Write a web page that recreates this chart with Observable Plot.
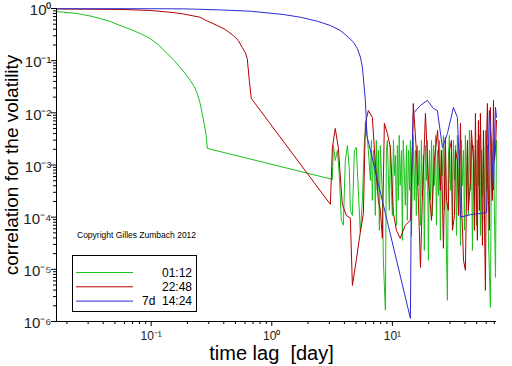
<!DOCTYPE html>
<html><head><meta charset="utf-8">
<script src="https://cdn.jsdelivr.net/npm/d3@7"></script>
<script src="https://cdn.jsdelivr.net/npm/@observablehq/plot@0.6"></script>
<style>
body{margin:0;background:#fff;}
#chart{width:512px;height:366px;}
</style></head><body><div id="chart"></div>
<script>
// ---- data: [lag in days, correlation] ----
const seriesNames = ["01:12", "22:48", "7d 14:24"];
const legendLabels = ["01:12", "22:48", "7d  14:24"];
const seriesColors = ["#1cc01c", "#b40000", "#2c2cd2"];

const greenPoints = [
[0.0164,0.876],[0.0201,0.838],[0.0243,0.80],[0.0312,0.718],[0.0377,0.643],[0.0457,0.564],[0.0553,0.472],
[0.0710,0.379],[0.0842,0.318],[0.0982,0.266],[0.114,0.204],[0.136,0.137],[0.155,0.101],[0.174,0.0741],
[0.191,0.0569],[0.211,0.0418],[0.2275,0.0320],[0.241,0.0235],[0.255,0.0151],[0.270,0.00781],[0.286,0.00369],
[0.292,0.00208],
[3.18,5.3e-4],[3.24,2.37e-3],[3.36,1.22e-3],[3.50,1.91e-3],[3.63,6.3e-4],[3.77,8.7e-5],[3.92,7.0e-5],
[4.07,1.22e-3],[4.24,2.37e-3],[4.40,7.9e-4],[4.48,1.35e-4],[4.66,1.08e-4],[4.84,1.91e-3],[5.02,2.17e-3],
[5.22,3.26e-4],[5.42,5.1e-5],[5.64,2.1e-4],[5.86,2.96e-3],[6.08,5.74e-3],[6.32,1.91e-3],
[6.57,5.07e-4],[6.70,2.96e-3],[6.82,2.1e-4],[6.96,1.91e-3],[7.09,1.22e-3],[7.22,1.08e-4],[7.36,2.96e-3],
[7.50,3.26e-4],[7.65,1.91e-3],[7.80,5.6e-5],[7.95,2.37e-3],[8.10,7.9e-4],[8.26,2.62e-4],[8.42,1.49e-5],
[8.58,4.9e-6],[8.75,1.64e-6],[8.92,1.91e-3],[9.09,2.96e-3],[9.26,6.3e-4],[9.44,1.35e-4],[9.62,2.37e-3],
[9.81,3.26e-4],[10.0,1.08e-4],[10.2,2.96e-3],[10.4,6.3e-4],[10.6,1.53e-3],[10.8,7.0e-5],[11.0,2.37e-3],
[11.2,2.1e-4],[11.4,3.69e-3],[11.6,4.07e-4],[11.9,1.91e-3],[12.1,3.6e-5],[12.3,2.96e-3],[12.6,6.3e-4],
[12.8,1.68e-4],[13.1,2.37e-3],[13.3,8.7e-5],[13.6,1.91e-3],[13.9,3.26e-4],[14.1,2.96e-3],[14.4,4.48e-5],
[14.7,1.22e-3],[14.9,3.69e-3],[15.2,2.1e-4],[15.5,1.91e-3],[15.8,1.08e-4],[16.1,2.37e-3],[16.4,4.07e-4],
[16.7,1.91e-3],[17.1,7.0e-5],[17.4,2.96e-3],[17.7,2.62e-4],[18.1,1.53e-3],[18.4,2.31e-5],[18.8,2.37e-3],
[19.2,5.07e-4],[19.5,2.96e-3],[19.9,1.49e-5],[20.3,1.91e-3],[20.7,2.1e-4],[21.1,2.96e-3],[21.5,1.08e-4],
[21.9,2.37e-3],[22.3,4.07e-4],[22.8,3.69e-3],[23.2,7.0e-5],[23.7,1.91e-3],[24.1,2.62e-4],[24.6,2.96e-3],
[25.0,3.6e-5],[25.5,1.91e-3],[26.0,6.3e-4],[26.5,3.69e-3],[27.0,1.35e-4],[27.5,2.37e-3],[28.1,1.85e-5],
[28.6,2.55e-6],[29.1,1.22e-3],[29.7,3.69e-3],[30.3,3.26e-4],[30.9,1.91e-3],[31.5,7.0e-5],[32.1,2.96e-3],
[32.7,5.07e-4],[33.4,2.37e-3],[34.0,4.48e-5],[34.6,3.69e-3],[35.3,2.62e-4],[36.0,1.91e-3],[36.7,2.88e-5],
[37.4,2.96e-3],[38.1,4.07e-4],[38.9,1.91e-3],[39.6,5.6e-5],[40.3,3.69e-3],[41.1,2.1e-4],[41.9,2.37e-3],
[42.7,1.08e-4],[43.5,4.6e-3],[44.4,3.26e-4],[45.2,2.96e-3],[46.1,2.31e-5],[47.0,2.37e-3],[47.9,2.1e-4],
[48.8,1.91e-3],[49.8,7.0e-5],[50.7,2.96e-3],[51.7,4.07e-4],[52.7,3.69e-3],[53.7,4.48e-5],[54.8,1.91e-3],
[55.8,2.62e-4],[56.9,2.96e-3],[58.0,8.7e-5],[59.1,4.6e-3],[60.3,3.26e-4],[61.4,2.37e-3],[62.6,3.6e-5],
[63.7,9.6e-6],[65.0,1.87e-6],[66.3,1.91e-3],[67.5,2.1e-4],[68.9,2.96e-3],[70.2,1.08e-4],[71.6,7.0e-6],
[73.0,2.96e-3]];

const redPoints = [
[0.0164,0.98],[0.0586,0.957],[0.0982,0.916],[0.152,0.838],[0.1844,0.785],[0.255,0.68],[0.2806,0.60],
[0.353,0.472],[0.411,0.396],[0.479,0.304],[0.527,0.244],[0.569,0.179],[0.602,0.1436],[0.626,0.110],
[0.651,0.0418],[0.676,0.0189],
[3.06,1.76e-4],[3.18,2.17e-3],[3.36,5.02e-3],[3.56,2.17e-3],[3.84,1.8e-4],[4.15,1.08e-4],[4.48,9.6e-5],
[4.66,4.9e-6],[5.02,1.49e-5],[5.42,5.1e-5],[5.75,1.18e-4],[5.97,6.27e-3],[6.32,0.0111],[6.82,8.2e-3],
[7.22,1.1e-3],[7.65,2.1e-4],[7.95,1.35e-4],[8.26,3.93e-5],[8.58,6.27e-3],[9.09,4.03e-3],[9.62,2.17e-3],
[10.2,1.18e-4],[10.8,5.6e-5],[11.6,3.93e-5],[12.8,7.0e-5],[14.1,8.7e-5],[14.7,2.96e-3],[14.9,0.0151],
[15.8,1.91e-3],[16.4,2.4e-4],[17.1,1.09e-5],[17.7,2.1e-4],[18.8,9.75e-3],[19.9,5.07e-4],[21.1,8.7e-5],
[22.3,1.22e-3],[23.7,4.6e-3],
[25.0,3.26e-4],[25.5,1.91e-3],[26.5,2.53e-5],[27.5,3.38e-3],[28.1,2.1e-4],[29.1,1.35e-4],[29.7,1.91e-3],
[30.9,2.96e-3],[31.5,5.6e-5],[32.7,1.08e-4],[33.4,1.91e-3],[34.6,1.22e-3],[35.3,1.08e-4],[36.7,6.27e-3],
[37.4,2.1e-4],[38.9,1.49e-5],[40.3,9.6e-6],[41.9,2.96e-3],[42.7,1.35e-4],[44.4,5.07e-4],[45.2,4.6e-3],
[47.0,1.22e-3],[47.9,5.6e-5],[48.8,9.75e-3],[49.8,2.1e-4],[50.7,3.6e-5],[51.7,7.15e-3],[52.7,1.35e-4],
[53.7,9.75e-3],[54.8,5.07e-4],[55.8,2.88e-5],[56.9,4.6e-3],[58.0,8.7e-5],[59.1,3.96e-6],[60.3,2.96e-3],
[61.4,0.0151],[62.6,2.1e-4],[63.7,5.6e-5],[65.0,0.0127],[66.3,5.07e-4],[67.5,2.1e-4],[68.9,0.0173],
[70.2,1.22e-3],[71.6,1.91e-3],[73.0,7.15e-3]];

const bluePoints = [
[0.0164,0.99],[0.0982,0.99],[0.1844,0.985],[0.353,0.944],[0.663,0.888],[1.246,0.767],[1.724,0.681],
[2.386,0.571],[3.06,0.472],[3.70,0.379],[4.31,0.282],[4.75,0.226],[5.12,0.171],[5.43,0.117],[5.64,0.075],
[5.74,0.0483],[5.97,0.0173],[6.08,0.00715],[6.14,0.00369],
[14.1,1.15e-6],[14.4,5e-4],[14.9,0.00975],[17.1,0.0139],[19.5,0.0173],[21.9,0.0121],[23.6,0.0111],
[26.0,0.00217],[28.6,0.00403],[32.1,0.0127],[34.6,0.00817],[35.9,9.8e-4],[36.7,1.0e-4],[44.4,1.12e-4],
[53.7,1.18e-4],[60.3,1.23e-4],[62.6,2.0e-3],[63.7,0.0111],[66.3,2.6e-3],[68.9,3.3e-4],[71.6,0.0127],
[73.0,0.0082]];

const xMajorTicks = [0.1, 1, 10];
const yMajorTicks = [1e-6, 1e-5, 1e-4, 1e-3, 1e-2, 1e-1, 1];
const minorSteps = [2, 3, 4, 5, 6, 7, 8, 9];
const xDomain = [0.0164, 73];
const yDomain = [1e-6, 1];
const xTitle = "time lag\u00a0 [day]";
const yTitle = "correlation for the volatility";
const copyright = "Copyright Gilles Zumbach 2012";

// ---- build ----
const rows = [];
[greenPoints, redPoints, bluePoints].forEach((pts, i) => {
  pts.forEach(([lag, corr]) => rows.push({series: seriesNames[i], lag, corr}));
});
const minorOf = (decades, dom) => decades.flatMap(d => minorSteps.map(s => s * d)).filter(v => v > dom[0] && v < dom[1]);
const xMinor = minorOf([0.01, 0.1, 1, 10], xDomain);
const yMinor = minorOf([1e-6, 1e-5, 1e-4, 1e-3, 1e-2, 1e-1], yDomain);
const supMap = {"-": "\u207b", "0": "\u2070", "1": "\u00b9", "2": "\u00b2", "3": "\u00b3", "4": "\u2074", "5": "\u2075", "6": "\u2076", "7": "\u2077", "8": "\u2078", "9": "\u2079"};
const pow10Label = d => "10" + String(Math.round(Math.log10(d))).split("").map(c => supMap[c]).join("");

const font = "'Liberation Sans', Arial, sans-serif";
const plot = Plot.plot({
  width: 512, height: 366,
  marginLeft: 56, marginRight: 16, marginTop: 8, marginBottom: 45,
  x: {type: "log", domain: xDomain},
  y: {type: "log", domain: yDomain},
  color: {domain: seriesNames, range: seriesColors},
  style: {fontFamily: font, background: "white", color: "black"},
  marks: [
    Plot.axisX({ticks: xMinor, tickSize: 3, tickFormat: () => "", label: null}),
    Plot.axisX({ticks: xMajorTicks, tickSize: 5, tickFormat: () => "", label: null}),
    Plot.axisY({ticks: yMinor, tickSize: 3, tickFormat: () => "", label: null}),
    Plot.axisY({ticks: yMajorTicks, tickSize: 5, tickFormat: () => "", label: null}),
    Plot.text(xMajorTicks, {x: d => d, frameAnchor: "bottom", text: pow10Label, dy: 15, fontSize: 12, lineAnchor: "middle", textAnchor: "middle", fill: "#222"}),
    Plot.text(yMajorTicks, {y: d => d, frameAnchor: "left", text: pow10Label, dx: -5, dy: 2, textAnchor: "end", fontSize: 15, fill: "#222"}),
    Plot.line(rows, {x: "lag", y: "corr", z: "series", stroke: "series", strokeWidth: 1}),
    Plot.ruleX([xDomain[0]], {stroke: "black"}),
    Plot.ruleY([yDomain[0]], {stroke: "black"}),
    Plot.text([xTitle], {frameAnchor: "bottom", text: d => d, dx: -5, dy: 32, fontSize: 20, lineAnchor: "middle", textAnchor: "middle", fill: "black"}),
    Plot.text([yTitle], {frameAnchor: "left", text: d => d, dx: -45, dy: 0, rotate: -90, fontSize: 19, lineAnchor: "middle", textAnchor: "middle", fill: "black"})
  ]
});
document.getElementById("chart").appendChild(plot);

// legend + copyright inside the frame
const svg = d3.select(plot);
svg.append("text").attr("x", 77).attr("y", 238).attr("text-anchor", "start")
  .attr("font-family", font).attr("font-size", 8.5).attr("fill", "black").text(copyright);
const lg = svg.append("g").attr("font-family", font).attr("font-size", 12);
lg.append("rect").attr("x", 72.5).attr("y", 255.5).attr("width", 124).attr("height", 56)
  .attr("fill", "white").attr("stroke", "black");
seriesNames.forEach((name, i) => {
  const yy = 272.5 + i * 14.3;
  lg.append("line").attr("x1", 76).attr("x2", 133).attr("y1", yy).attr("y2", yy)
    .attr("stroke", seriesColors[i]).attr("stroke-width", 1);
  lg.append("text").attr("x", 192).attr("y", yy).attr("dy", "0.35em").attr("text-anchor", "end")
    .style("white-space", "pre").attr("fill", "black").text(legendLabels[i]);
});
</script></body></html>
